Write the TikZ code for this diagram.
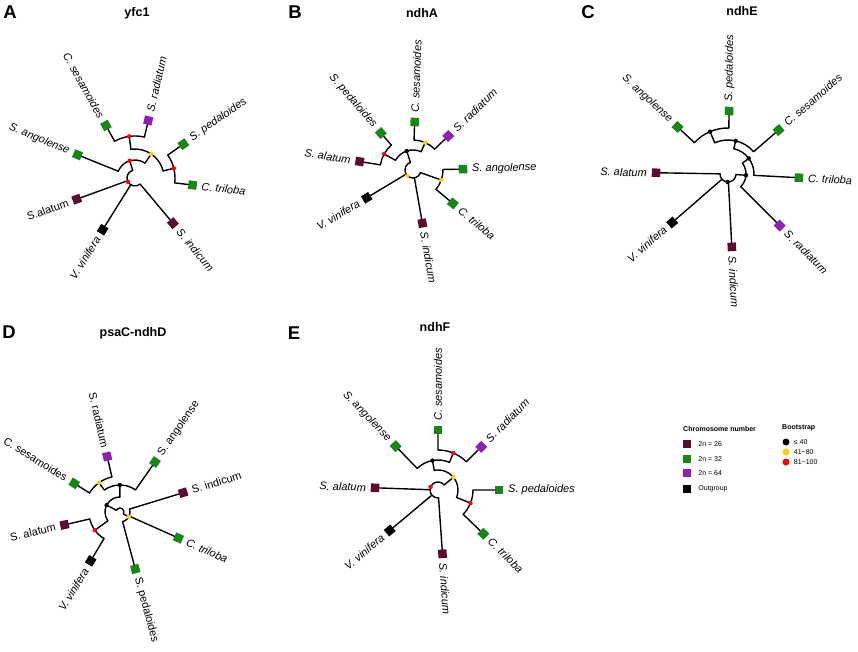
\documentclass[tikz,border=0pt]{standalone}
\usepackage{fontspec}
\setmainfont{Liberation Sans}
\usetikzlibrary{positioning}

\definecolor{chr26}{RGB}{92,12,46}
\definecolor{chr32}{RGB}{24,134,24}
\definecolor{chr64}{RGB}{142,32,178}
\definecolor{bsmid}{RGB}{255,208,0}
\definecolor{bshigh}{RGB}{255,0,0}

\tikzset{
  branch/.style = {line width=1.4pt, line cap=round, line join=round},
  tipbox/.style = {shape=rectangle, minimum size=8.5pt, inner sep=0pt},
  taxon/.style = {font=\fontsize{11}{13}\selectfont\itshape, inner sep=0pt},
  paneltag/.style = {font=\fontsize{18.5}{20}\selectfont\bfseries, inner sep=0pt},
  genename/.style = {font=\fontsize{12.5}{14}\selectfont\bfseries, inner sep=0pt},
  legtitle/.style = {font=\fontsize{7}{8}\selectfont\bfseries, inner sep=0pt, anchor=west},
  legtext/.style = {font=\fontsize{7}{8}\selectfont, inner sep=0pt},
  legbox/.style = {shape=rectangle, minimum size=8pt, inner sep=0pt},
  legdot/.style = {shape=circle, minimum size=7pt, inner sep=0pt},
}

% leaf: name, angle, radius, colour, label
\newcommand{\leaf}[5]{%
  \node[tipbox, fill=#4, rotate=#2] (#1) at (#2:#3) {};
  \pgfmathsetmacro{\leafcos}{cos(#2)}%
  \ifdim\leafcos pt<-0.01pt
    \node[taxon, rotate=#2+180, anchor=east] (#1-name) at (#2:{#3+9}) {#5};
  \else
    \node[taxon, rotate=#2, anchor=west] (#1-name) at (#2:{#3+9}) {#5};
  \fi}

% inner node: name, radius, from angle, to angle
\newcommand{\arcnode}[4]{%
  \draw[branch] (#3:#2) arc[start angle=#3, end angle=#4, radius=#2];
  \coordinate (#1) at ({(#3+#4)/2}:#2);}

\begin{document}
\begin{tikzpicture}[x=1pt, y=1pt]
  \useasboundingbox (0,0) rectangle (858,651);

  % panel headings
  \node[paneltag] (tagA) at (10,639) {A};
  \node[genename] (geneA) at (137,638) {yfc1};
  \node[paneltag] (tagB) at (295,639) {B};
  \node[genename] (geneB) at (422,638) {ndhA};
  \node[paneltag] (tagC) at (588,639) {C};
  \node[genename] (geneC) at (742,640) {ndhE};
  \node[paneltag] (tagD) at (9,319) {D};
  \node[genename] (geneD) at (133,318) {psaC-ndhD};
  \node[paneltag] (tagE) at (294,318) {E};
  \node[genename] (geneE) at (435,324) {ndhF};

  % A: yfc1
  \begin{scope}[shift={(135,473)}]
    \leaf{A-ses}{119}{60}{chr32}{C. sesamoides}
    \leaf{A-rad}{77}{59}{chr64}{S. radiatum}
    \leaf{A-ped}{35}{59}{chr32}{S. pedaloides}
    \leaf{A-tri}{-7}{58}{chr32}{C. triloba}
    \leaf{A-ind}{-50}{59}{chr26}{S. indicum}
    \leaf{A-vin}{238}{61}{black}{V. vinifera}
    \leaf{A-ala}{200}{62}{chr26}{\upshape S.alatum}
    \leaf{A-ang}{158}{62}{chr32}{S. angolense}
    \arcnode{A-n1}{42}{77}{119}
    \arcnode{A-n2}{40}{-7}{35}
    \arcnode{A-n3}{29}{14}{98}
    \arcnode{A-n4}{18}{56}{158}
    \arcnode{A-n0}{8}{107}{310}
    \draw[branch] (119:42) -- (A-ses) (77:42) -- (A-rad)
                  (35:40) -- (A-ped) (-7:40) -- (A-tri)
                  (98:29) -- (A-n1) (14:29) -- (A-n2)
                  (56:18) -- (A-n3) (158:18) -- (A-ang)
                  (107:8) -- (A-n4) (200:8) -- (A-ala)
                  (238:8) -- (A-vin) (310:8) -- (A-ind);
    \foreach \n/\c in {A-n1/bshigh, A-n2/bshigh, A-n3/bsmid, A-n4/bshigh, A-n0/bshigh}
      \fill[\c] (\n) circle[radius=2.2];
  \end{scope}

  % B: ndhA
  \begin{scope}[shift={(413,481)}]
    \leaf{B-ped}{131}{49}{chr32}{S. pedaloides}
    \leaf{B-ses}{88}{48}{chr32}{C. sesamoides}
    \leaf{B-rad}{44}{49}{chr64}{S. radiatum}
    \leaf{B-ang}{1}{50}{chr32}{S. angolense}
    \leaf{B-tri}{-40}{52}{chr32}{C. triloba}
    \leaf{B-ind}{-80}{54}{chr26}{S. indicum}
    \leaf{B-vin}{211}{54}{black}{V. vinifera}
    \leaf{B-ala}{171}{54}{chr26}{S. alatum}
    \arcnode{B-n1}{30}{44}{88}
    \arcnode{B-n2}{33}{131}{171}
    \arcnode{B-n3}{20}{66}{151}
    \arcnode{B-n4}{30}{-40}{1}
    \arcnode{B-n0}{8}{108.5}{340.5}
    \draw[branch] (44:30) -- (B-rad) (88:30) -- (B-ses)
                  (131:33) -- (B-ped) (171:33) -- (B-ala)
                  (66:20) -- (B-n1) (151:20) -- (B-n2)
                  (1:30) -- (B-ang) (-40:30) -- (B-tri)
                  (108.5:8) -- (B-n3) (211:8) -- (B-vin)
                  (280:8) -- (B-ind) (340.5:8) -- (B-n4);
    \foreach \n/\c in {B-n1/bsmid, B-n2/bshigh, B-n3/black, B-n4/bsmid, B-n0/bsmid}
      \fill[\c] (\n) circle[radius=2.2];
  \end{scope}

  % C: ndhE
  \begin{scope}[shift={(728,477)}]
    \leaf{C-ang}{137}{69}{chr32}{S. angolense}
    \leaf{C-ped}{89}{63}{chr32}{S. pedaloides}
    \leaf{C-ses}{41}{67}{chr32}{C. sesamoides}
    \leaf{C-tri}{-3}{71}{chr32}{C. triloba}
    \leaf{C-rad}{-45}{73}{chr64}{S. radiatum}
    \leaf{C-ind}{-87}{73}{chr26}{S. indicum}
    \leaf{C-vin}{221}{74}{black}{V. vinifera}
    \leaf{C-ala}{179}{72}{chr26}{S. alatum}
    \arcnode{C-n1}{46}{89}{137}
    \arcnode{C-n2}{34}{41}{113}
    \arcnode{C-n3}{26}{-3}{77}
    \arcnode{C-n4}{18}{-45}{37}
    \arcnode{C-n0}{8}{179}{356}
    \draw[branch] (89:46) -- (C-ped) (137:46) -- (C-ang)
                  (113:34) -- (C-n1) (41:34) -- (C-ses)
                  (77:26) -- (C-n2) (-3:26) -- (C-tri)
                  (37:18) -- (C-n3) (-45:18) -- (C-rad)
                  (356:8) -- (C-n4) (273:8) -- (C-ind)
                  (221:8) -- (C-vin) (179:8) -- (C-ala);
    \foreach \n in {C-n1, C-n2, C-n3, C-n4, C-n0}
      \fill[black] (\n) circle[radius=2.2];
  \end{scope}

  % D: psaC-ndhD
  \begin{scope}[shift={(120,139)}]
    \leaf{D-rad}{103}{57}{chr64}{\upshape S. radiatum}
    \leaf{D-ang}{55}{61}{chr32}{\upshape S. angolense}
    \leaf{D-ind}{17}{66}{chr26}{\upshape S. indicum}
    \leaf{D-tri}{-24}{64}{chr32}{C. triloba}
    \leaf{D-ped}{-75}{59}{chr32}{\upshape S. pedaloides}
    \leaf{D-vin}{239}{57}{black}{V. vinifera}
    \leaf{D-ala}{193}{57}{chr26}{\upshape S. alatum}
    \leaf{D-ses}{148}{54}{chr32}{\upshape C. sesamoides}
    \arcnode{D-n1}{36}{103}{148}
    \arcnode{D-n2}{27}{55}{125.5}
    \arcnode{D-n3}{31}{193}{239}
    \arcnode{D-n4}{15}{90.25}{216}
    \arcnode{D-n5}{10}{-75}{17}
    \arcnode{D-n0}{4}{-29}{153.125}
    \draw[branch] (103:36) -- (D-rad) (148:36) -- (D-ses)
                  (125.5:27) -- (D-n1) (55:27) -- (D-ang)
                  (193:31) -- (D-ala) (239:31) -- (D-vin)
                  (90.25:15) -- (D-n2) (216:15) -- (D-n3)
                  (153.125:4) -- (D-n4) (-29:4) -- (D-n5)
                  (17:10) -- (D-ind) (-24:10) -- (D-tri) (-75:10) -- (D-ped);
    \foreach \n/\c in {D-n1/bsmid, D-n2/black, D-n3/bshigh, D-n4/black, D-n5/bsmid}
      \fill[\c] (\n) circle[radius=2.2];
  \end{scope}

  % E: ndhF
  \begin{scope}[shift={(438,161)}]
    \leaf{E-ses}{90}{60}{chr32}{C. sesamoides}
    \leaf{E-rad}{45}{61}{chr64}{S. radiatum}
    \leaf{E-ped}{0}{61}{chr32}{S. pedaloides}
    \leaf{E-tri}{-44}{63}{chr32}{C. triloba}
    \leaf{E-ind}{-86}{64}{chr26}{S. indicum}
    \leaf{E-vin}{220}{63}{black}{V. vinifera}
    \leaf{E-ala}{178}{63}{chr26}{S. alatum}
    \leaf{E-ang}{134}{61}{chr32}{S. angolense}
    \arcnode{E-n1}{40}{45}{90}
    \arcnode{E-n2}{30}{67.5}{134}
    \arcnode{E-n3}{35}{-44}{0}
    \arcnode{E-n4}{20}{-22}{100.75}
    \arcnode{E-n0}{8}{39.375}{274}
    \draw[branch] (45:40) -- (E-rad) (90:40) -- (E-ses)
                  (67.5:30) -- (E-n1) (134:30) -- (E-ang)
                  (0:35) -- (E-ped) (-44:35) -- (E-tri)
                  (100.75:20) -- (E-n2) (-22:20) -- (E-n3)
                  (39.375:8) -- (E-n4) (178:8) -- (E-ala)
                  (220:8) -- (E-vin) (274:8) -- (E-ind);
    \foreach \n/\c in {E-n1/bshigh, E-n2/black, E-n3/bshigh, E-n4/bsmid, E-n0/bshigh}
      \fill[\c] (\n) circle[radius=2.2];
  \end{scope}

  % legend
  \node[legtitle] (chrtitle) at (683,222) {Chromosome number};
  \node[legbox, fill=chr26] (leg26) at (687,207) {};
  \node[legbox, fill=chr32] (leg32) at (687,192) {};
  \node[legbox, fill=chr64] (leg64) at (687,178) {};
  \node[legbox, fill=black] (legout) at (687,162) {};
  \node[legtext, right=7pt of leg26] (leg26-text) {2n = 26};
  \node[legtext, right=7pt of leg32] (leg32-text) {2n = 32};
  \node[legtext, right=7pt of leg64] (leg64-text) {2n = 64};
  \node[legtext, right=7pt of legout] (legout-text) {Outgroup};
  \node[legtitle] (bstitle) at (782,223) {Bootstrap};
  \node[legdot, fill=black] (leg-low) at (786,209) {};
  \node[legdot, fill=bsmid] (leg-mid) at (786,199) {};
  \node[legdot, fill=bshigh] (leg-high) at (786,189) {};
  \node[legtext, right=4pt of leg-low] (leg-low-text) {≤ 40};
  \node[legtext, right=4pt of leg-mid] (leg-mid-text) {41\textasciitilde 80};
  \node[legtext, right=4pt of leg-high] (leg-high-text) {81\textasciitilde 100};
\end{tikzpicture}
\end{document}
